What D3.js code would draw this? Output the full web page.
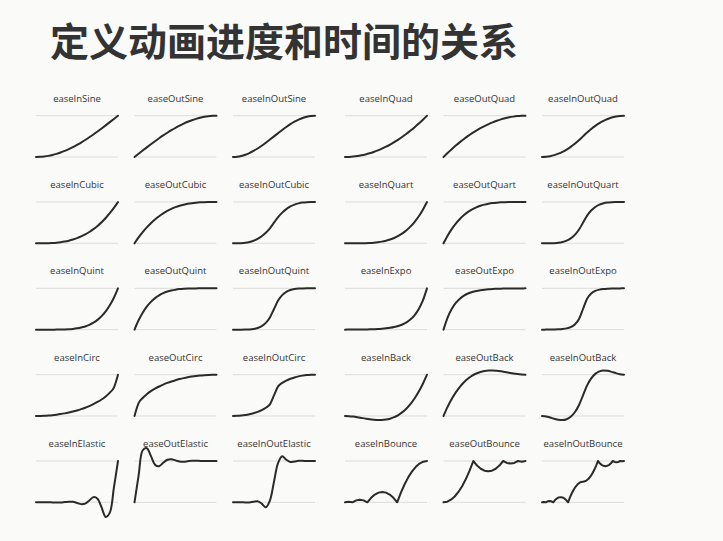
<!DOCTYPE html>
<html><head><meta charset="utf-8">
<script src="https://cdn.jsdelivr.net/npm/d3@7"></script>
<style>html,body{margin:0;padding:0;background:#fafaf9;}svg{display:block;}</style>
</head><body><svg id="chart" width="723" height="541"></svg>
<script>
const title = "定义动画进度和时间的关系";
const names = [
  "easeInSine","easeOutSine","easeInOutSine","easeInQuad","easeOutQuad","easeInOutQuad",
  "easeInCubic","easeOutCubic","easeInOutCubic","easeInQuart","easeOutQuart","easeInOutQuart",
  "easeInQuint","easeOutQuint","easeInOutQuint","easeInExpo","easeOutExpo","easeInOutExpo",
  "easeInCirc","easeOutCirc","easeInOutCirc","easeInBack","easeOutBack","easeInOutBack",
  "easeInElastic","easeOutElastic","easeInOutElastic","easeInBounce","easeOutBounce","easeInOutBounce"
];
// progress values sampled at evenly spaced times from 0 to 1
const easeInSine = [0,.0031,.0123,.0276,.0489,.0761,.109,.1474,.191,.2396,.2929,.3506,.4122,.4775,.546,.6173,.691,.7666,.8436,.9215,1];
const easeOutSine = [0,.0785,.1564,.2334,.309,.3827,.454,.5225,.5878,.6494,.7071,.7604,.809,.8526,.891,.9239,.9511,.9724,.9877,.9969,1];
const easeInOutSine = [0,.0062,.0245,.0545,.0955,.1464,.2061,.273,.3455,.4218,.5,.5782,.6545,.727,.7939,.8536,.9045,.9455,.9755,.9938,1];
const easeInQuad = [0,.0025,.01,.0225,.04,.0625,.09,.1225,.16,.2025,.25,.3025,.36,.4225,.49,.5625,.64,.7225,.81,.9025,1];
const easeOutQuad = [0,.0975,.19,.2775,.36,.4375,.51,.5775,.64,.6975,.75,.7975,.84,.8775,.91,.9375,.96,.9775,.99,.9975,1];
const easeInOutQuad = [0,.005,.02,.045,.08,.125,.18,.245,.32,.405,.5,.595,.68,.755,.82,.875,.92,.955,.98,.995,1];
const easeInCubic = [0,.0001,.001,.0034,.008,.0156,.027,.0429,.064,.0911,.125,.1664,.216,.2746,.343,.4219,.512,.6141,.729,.8574,1];
const easeOutCubic = [0,.1426,.271,.3859,.488,.5781,.657,.7254,.784,.8336,.875,.9089,.936,.9571,.973,.9844,.992,.9966,.999,.9999,1];
const easeInOutCubic = [0,.0005,.004,.0135,.032,.0625,.108,.1715,.256,.3645,.5,.6355,.744,.8285,.892,.9375,.968,.9865,.996,.9995,1];
const easeInQuart = [0,0,.0001,.0005,.0016,.0039,.0081,.015,.0256,.041,.0625,.0915,.1296,.1785,.2401,.3164,.4096,.522,.6561,.8145,1];
const easeOutQuart = [0,.1855,.3439,.478,.5904,.6836,.7599,.8215,.8704,.9085,.9375,.959,.9744,.985,.9919,.9961,.9984,.9995,.9999,1,1];
const easeInOutQuart = [0,.0001,.0008,.0041,.0128,.0313,.0648,.12,.2048,.328,.5,.672,.7952,.88,.9352,.9688,.9872,.9959,.9992,.9999,1];
const easeInQuint = [0,0,0,.0001,.0003,.001,.0024,.0053,.0102,.0185,.0313,.0503,.0778,.116,.1681,.2373,.3277,.4437,.5905,.7738,1];
const easeOutQuint = [0,.2262,.4095,.5563,.6723,.7627,.8319,.884,.9222,.9497,.9688,.9815,.9898,.9947,.9976,.999,.9997,.9999,1,1,1];
const easeInOutQuint = [0,0,.0002,.0012,.0051,.0156,.0389,.084,.1638,.2952,.5,.7048,.8362,.916,.9611,.9844,.9949,.9988,.9998,1,1];
const easeInExpo = [0,.0014,.002,.0028,.0039,.0055,.0078,.011,.0156,.0221,.0313,.0442,.0625,.0884,.125,.1768,.25,.3536,.5,.7071,1];
const easeOutExpo = [0,.2929,.5,.6464,.75,.8232,.875,.9116,.9375,.9558,.9688,.9779,.9844,.989,.9922,.9945,.9961,.9972,.998,.9986,1];
const easeInOutExpo = [0,.001,.002,.0039,.0078,.0156,.0313,.0625,.125,.25,.5,.75,.875,.9375,.9688,.9844,.9922,.9961,.998,.999,1];
const easeInCirc = [0,.0013,.005,.0113,.0202,.0318,.0461,.0633,.0835,.107,.134,.1648,.2,.2401,.2859,.3386,.4,.4732,.5641,.6878,1];
const easeOutCirc = [0,.3122,.4359,.5268,.6,.6614,.7141,.7599,.8,.8352,.866,.893,.9165,.9367,.9539,.9682,.9798,.9887,.995,.9987,1];
const easeInOutCirc = [0,.0025,.0101,.023,.0417,.067,.1,.1429,.2,.2821,.5,.7179,.8,.8571,.9,.933,.9583,.977,.9899,.9975,1];
const easeInBack = [0,-.0039,-.0143,-.0292,-.0465,-.0641,-.0802,-.0926,-.0994,-.0984,-.0877,-.0653,-.029,.023,.0929,.1826,.2942,.4297,.5912,.7806,1];
const easeOutBack = [0,.2194,.4088,.5703,.7058,.8174,.9071,.977,1.029,1.0653,1.0877,1.0984,1.0994,1.0926,1.0802,1.0641,1.0465,1.0292,1.0143,1.0039,1];
const easeInOutBack = [0,-.0112,-.0375,-.0682,-.0926,-.0997,-.0788,-.0192,.0899,.2594,.5,.7406,.9101,1.0192,1.0788,1.0997,1.0926,1.0682,1.0375,1.0112,1];
const easeInElastic = [0,.0007,.002,.0014,-.002,-.0055,-.0039,.0055,.0156,.011,-.0156,-.0442,-.0313,.0442,.125,.0884,-.125,-.3536,-.25,.3536,1];
const easeOutElastic = [0,.6464,1.26,1.31,1.125,.9116,.875,.9558,1.0313,1.0442,1.0156,.989,.9844,.9945,1.0039,1.0055,1.002,.9986,.998,.9993,1];
const easeInOutElastic = [0,.001,.0003,-.0037,-.0039,.012,.0239,-.0313,-.1175,.0434,.5,.9566,1.1175,1.0313,.9761,.988,1.0039,1.0037,.9997,.999,1];
const easeInBounce = [0,.0156,0,.0469,.0625,.0469,0,.1094,.1875,.2344,.25,.2344,.1875,.1094,0,.2344,.4375,.6094,.75,.8594,.9375,.9844,1];
const easeOutBounce = [0,.0156,.0625,.1406,.25,.3906,.5625,.7656,1,.8906,.8125,.7656,.75,.7656,.8125,.8906,1,.9531,.9375,.9531,1,.9844,1];
const easeInOutBounce = [0,.0078,0,.0234,.0313,.0234,0,.0547,.0938,.1172,.125,.1172,.0938,.0547,0,.1172,.2188,.3047,.375,.4297,.4688,.4922,.5,
  .5078,.5313,.5703,.625,.6953,.7813,.8828,1,.9453,.9063,.8828,.875,.8828,.9063,.9453,1,.9766,.9688,.9766,1,.9922,1];

const seriesByName = {easeInSine,easeOutSine,easeInOutSine,easeInQuad,easeOutQuad,easeInOutQuad,
  easeInCubic,easeOutCubic,easeInOutCubic,easeInQuart,easeOutQuart,easeInOutQuart,
  easeInQuint,easeOutQuint,easeInOutQuint,easeInExpo,easeOutExpo,easeInOutExpo,
  easeInCirc,easeOutCirc,easeInOutCirc,easeInBack,easeOutBack,easeInOutBack,
  easeInElastic,easeOutElastic,easeInOutElastic,easeInBounce,easeOutBounce,easeInOutBounce};

const svg = d3.select("#chart");
svg.append("rect").attr("width",723).attr("height",541).attr("fill","#fafaf9");

svg.append("text")
  .attr("x", 50).attr("y", 55.5)
  .attr("font-family", "'Noto Sans CJK SC', sans-serif")
  .attr("font-weight", 700)
  .attr("font-size", 39)
  .attr("fill", "#333")
  .text(title);

const cellW = 82, cellH = 41.3;
const groupX = d3.scaleLinear().domain([0,1]).range([36,345]);
const innerX = d3.scaleLinear().domain([0,2]).range([0,197]);
const rowY = d3.scaleLinear().domain([0,4]).range([115.7,461]);
const yScale = d3.scaleLinear().domain([0,1]).range([cellH,0]);

names.forEach((name, i) => {
  const row = Math.floor(i/6), col = i%6;
  const x0 = groupX(Math.floor(col/3)) + innerX(col%3);
  const y0 = rowY(row);
  const g = svg.append("g").attr("transform", `translate(${x0},${y0})`);
  [0,1].forEach(v => {
    g.append("line").attr("x1",0).attr("x2",cellW)
      .attr("y1",yScale(v)).attr("y2",yScale(v))
      .attr("stroke","#dcdcdc").attr("stroke-width",1);
  });
  g.append("text").attr("x", cellW/2).attr("y", -14)
    .attr("text-anchor","middle")
    .attr("font-family","'Open Sans', sans-serif")
    .attr("font-size", 9.5)
    .attr("fill","#333")
    .text(name);
  const vals = seriesByName[name];
  const xs = d3.scaleLinear().domain([0, vals.length-1]).range([0, cellW]);
  const curve = name.includes("Bounce") ? d3.curveLinear
    : name.includes("Elastic") ? d3.curveCatmullRom : d3.curveMonotoneX;
  const line = d3.line().x((d,j)=>xs(j)).y(d=>yScale(d)).curve(curve);
  g.append("path").datum(vals).attr("d", line)
    .attr("fill","none").attr("stroke","#2a2a2a")
    .attr("stroke-width",2).attr("stroke-linejoin","round").attr("stroke-linecap","round");
});
</script></body></html>
